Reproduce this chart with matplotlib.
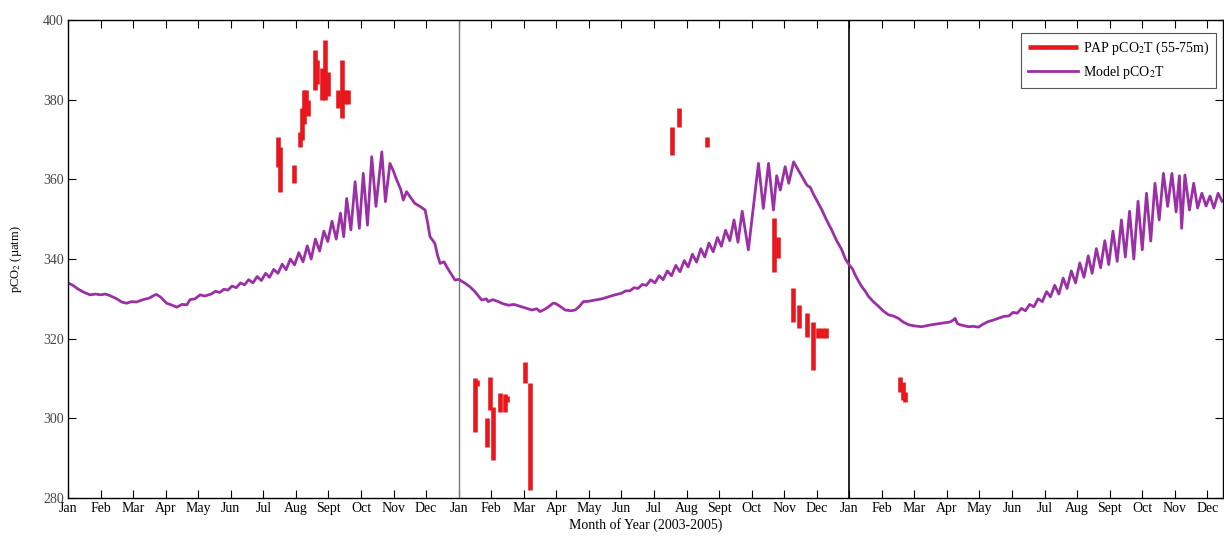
import numpy as np
import matplotlib
matplotlib.use("Agg")
from matplotlib import pyplot as plt

plt.rcParams['font.family'] = ['Liberation Serif', 'DejaVu Serif']
plt.rcParams['mathtext.fontset'] = 'stix'

month_names = ['Jan', 'Feb', 'Mar', 'Apr', 'May', 'Jun',
               'Jul', 'Aug', 'Sept', 'Oct', 'Nov', 'Dec']
year_starts = [0, 12, 24]

# model pCO2T, months since Jan of each year
model_month_2003 = [0.00, 0.15, 0.30, 0.50, 0.68, 0.85, 1.00, 1.15, 1.29, 1.50, 1.65, 1.80,
                    1.95, 2.10, 2.31, 2.50, 2.65, 2.72, 2.85, 3.03, 3.20, 3.34, 3.50, 3.65,
                    3.75, 3.90, 4.06, 4.20,
                    4.40, 4.53, 4.66, 4.79, 4.91, 5.04, 5.17, 5.30, 5.42, 5.55, 5.68, 5.81,
                    5.94, 6.07, 6.19, 6.32, 6.45, 6.58, 6.70, 6.83, 6.96, 7.09, 7.22, 7.35,
                    7.47, 7.60, 7.73, 7.86, 7.98, 8.11, 8.24, 8.37, 8.47, 8.56, 8.69, 8.82,
                    8.95, 9.07, 9.20, 9.33, 9.46, 9.64, 9.75, 9.89,
                    10.00, 10.10, 10.22, 10.30, 10.40, 10.51, 10.65, 10.81, 10.97, 11.05,
                    11.12, 11.27, 11.35, 11.43, 11.55, 11.63, 11.75, 11.89]
model_pco2_2003 = [334.0, 333.4, 332.5, 331.6, 331.0, 331.2, 331.0, 331.2, 330.8, 330.0, 329.2, 328.9,
                   329.3, 329.2, 329.8, 330.2, 330.9, 331.1, 330.4, 328.9, 328.4, 327.9, 328.6, 328.5,
                   329.8, 330.0, 331.0, 330.7,
                   331.2, 331.9, 331.6, 332.4, 332.2, 333.2, 332.8, 334.0, 333.5, 334.8, 334.0, 335.6,
                   334.6, 336.4, 335.4, 337.4, 336.4, 338.7, 337.3, 340.0, 338.5, 341.6, 339.3, 343.3,
                   340.0, 345.0, 342.0, 347.0, 344.4, 349.5, 345.0, 351.5, 345.6, 355.2, 347.3, 359.4,
                   347.7, 361.5, 348.5, 365.7, 353.2, 366.9, 354.4, 364.0,
                   362.0, 359.8, 357.5, 354.8, 356.9, 355.6, 354.0, 353.2, 352.3, 349.0,
                   345.6, 343.9, 341.0, 338.9, 339.3, 338.1, 336.5, 334.7]

model_month_2004 = [0.00, 0.20, 0.35, 0.50, 0.71, 0.85, 0.91, 1.05, 1.22, 1.35, 1.53, 1.70,
                    1.94, 2.10, 2.25, 2.40, 2.50, 2.65, 2.76, 2.90, 2.96, 3.10, 3.27, 3.45,
                    3.58, 3.70, 3.83, 4.00, 4.19, 4.40, 4.60, 4.80,
                    5.00, 5.13, 5.26, 5.39, 5.51, 5.64, 5.77, 5.90, 6.03, 6.16, 6.28, 6.41,
                    6.54, 6.67, 6.80, 6.93, 7.05, 7.18, 7.31, 7.44, 7.56, 7.69, 7.82, 7.95,
                    8.07, 8.20, 8.33, 8.46, 8.58, 8.71, 8.90, 9.21, 9.36, 9.52, 9.67, 9.77,
                    9.88, 10.03, 10.14, 10.29,
                    10.42, 10.55, 10.70, 10.80, 10.91, 11.05, 11.16, 11.30, 11.46, 11.60,
                    11.77, 11.88]
model_pco2_2004 = [334.9, 333.9, 333.0, 331.8, 329.7, 330.0, 329.3, 329.8, 329.3, 328.8, 328.4, 328.6,
                   328.0, 327.6, 327.2, 327.5, 326.8, 327.4, 328.0, 328.9, 328.9, 328.2, 327.2, 327.0,
                   327.2, 328.0, 329.3, 329.4, 329.7, 330.0, 330.5, 331.0,
                   331.4, 332.0, 332.0, 332.8, 332.6, 333.6, 333.4, 334.8, 334.0, 335.8, 334.8, 337.0,
                   335.8, 338.4, 336.8, 339.6, 338.0, 341.2, 339.2, 342.6, 340.5, 344.0, 341.8, 345.4,
                   343.2, 347.2, 344.6, 349.8, 344.2, 352.0, 342.3, 364.0, 352.7, 364.0, 352.3, 360.9,
                   357.3, 363.2, 359.0, 364.4,
                   362.5, 360.7, 358.5, 358.0, 356.1, 354.0, 352.3, 349.8, 347.3, 344.8,
                   342.3, 340.0]

model_month_2005 = [0.00, 0.10, 0.18, 0.28, 0.38, 0.50, 0.59, 0.75, 0.90, 1.05, 1.20, 1.35,
                    1.51, 1.65, 1.82, 2.00, 2.23, 2.40, 2.53, 2.70, 2.94, 3.10, 3.20, 3.25,
                    3.32, 3.40, 3.55, 3.66, 3.80, 3.97, 4.10, 4.27, 4.40, 4.58, 4.75,
                    4.90, 5.03, 5.16, 5.29, 5.41, 5.54, 5.67, 5.80, 5.93, 6.06, 6.18, 6.31,
                    6.44, 6.57, 6.69, 6.82, 6.95, 7.08, 7.21, 7.34, 7.46, 7.59, 7.72, 7.85,
                    7.97, 8.10, 8.23, 8.36, 8.48, 8.61, 8.74, 8.87, 9.00, 9.13, 9.26, 9.39,
                    9.52, 9.65, 9.78, 9.91, 10.04, 10.14, 10.21, 10.31, 10.45, 10.58, 10.70, 10.83,
                    10.96, 11.08, 11.20, 11.33, 11.45]
model_pco2_2005 = [338.5, 337.5, 336.0, 334.5, 333.1, 331.8, 330.6, 329.2, 328.1, 326.9, 326.0, 325.7,
                   325.1, 324.2, 323.5, 323.2, 323.0, 323.3, 323.5, 323.7, 324.0, 324.2, 324.7, 325.1,
                   323.8, 323.5, 323.2, 323.0, 323.1, 322.9, 323.6, 324.3, 324.6, 325.1, 325.6,
                   325.7, 326.6, 326.4, 327.6, 327.0, 328.6, 328.0, 330.0, 329.3, 331.8, 330.5, 333.4,
                   331.2, 335.2, 332.6, 337.0, 334.0, 339.0, 335.4, 340.8, 336.4, 342.6, 337.8, 344.6,
                   338.6, 347.0, 339.4, 349.8, 340.5, 352.0, 340.0, 354.5, 342.3, 356.5, 344.5, 359.0,
                   349.8, 361.5, 353.2, 361.5, 351.8, 360.9, 347.7, 361.1, 352.3, 359.0, 352.8, 356.5,
                   353.3, 355.8, 352.8, 356.5, 354.5]

# PAP mooring pCO2T (55-75m): vertical ranges, months since Jan 2003
pap_month = [6.44, 6.51, 6.94, 7.13, 7.19, 7.25, 7.31, 7.37, 7.59, 7.65, 7.80, 7.90, 7.99,
             8.29, 8.42, 8.51, 8.60,
             12.50, 12.57, 12.87, 12.96, 13.06, 13.27, 13.43, 13.49, 14.04, 14.19,
             18.56, 18.77, 19.63,
             21.69, 21.81, 22.27, 22.46, 22.70, 22.89, 23.04, 23.16, 23.29,
             25.56, 25.65, 25.71]
pap_low = [363.0, 356.8, 359.1, 368.2, 370.0, 374.0, 378.0, 376.0, 382.4, 384.0, 380.0, 380.0, 381.0,
           377.8, 375.4, 379.0, 379.0,
           296.6, 308.0, 292.8, 302.1, 289.5, 301.6, 301.6, 304.0, 308.9, 282.0,
           366.1, 373.1, 368.1,
           336.7, 340.2, 324.2, 322.7, 320.4, 312.1, 320.2, 320.2, 320.2,
           306.5, 304.5, 304.1]
pap_high = [370.6, 368.0, 363.6, 372.0, 378.0, 382.5, 382.5, 380.0, 392.5, 390.0, 388.0, 395.0, 387.0,
            382.4, 390.0, 382.4, 382.4,
            310.1, 309.5, 300.0, 310.4, 302.8, 306.3, 306.0, 305.5, 314.1, 308.9,
            373.1, 377.9, 370.6,
            350.3, 345.5, 332.7, 328.4, 326.4, 324.2, 322.7, 322.7, 322.7,
            310.4, 309.0, 306.5]

fig = plt.figure(figsize=(12.24, 5.36), dpi=100)
ax = fig.add_axes([68 / 1224, 38 / 536, 1155 / 1224, 478 / 536])

ax.axvline(12, color='#7a7a7a', linewidth=1.0)
ax.axvline(24, color='black', linewidth=1.2)

ax.vlines(pap_month, pap_low, pap_high, colors='#e8171d', linewidth=3.3,
          label='PAP pCO$_2$T (55-75m)')

model_x = np.concatenate([np.array(model_month_2003) + year_starts[0],
                          np.array(model_month_2004) + year_starts[1],
                          np.array(model_month_2005) + year_starts[2]])
model_y = np.concatenate([model_pco2_2003, model_pco2_2004, model_pco2_2005])
ax.plot(model_x, model_y, color='#9b30a6', linewidth=2.0, label='Model pCO$_2$T')

ax.set_xlim(0, 35.48)
ax.set_ylim(280, 400)
ax.set_xticks(np.arange(36))
ax.set_xticklabels(month_names * 3)
ax.set_yticks(np.arange(280, 401, 20))
ax.tick_params(direction='in', top=True, right=True, length=6, labelsize=10, pad=3)
ax.tick_params(axis='y', labelcolor='#444444')
for s in ax.spines.values():
    s.set_linewidth(1.0)

ax.set_xlabel('Month of Year (2003-2005)', fontsize=10, labelpad=2)
ax.set_ylabel('pCO$_2$ (µatm)', fontsize=9, labelpad=14)

leg = ax.legend(loc='upper right', bbox_to_anchor=(1.0, 0.988), fontsize=10,
                frameon=True, fancybox=False, framealpha=1, edgecolor='#555555',
                handlelength=3.6, borderpad=0.5, labelspacing=0.5, handletextpad=0.3)
leg.get_frame().set_linewidth(0.8)

fig.savefig('out.png', dpi=100)
